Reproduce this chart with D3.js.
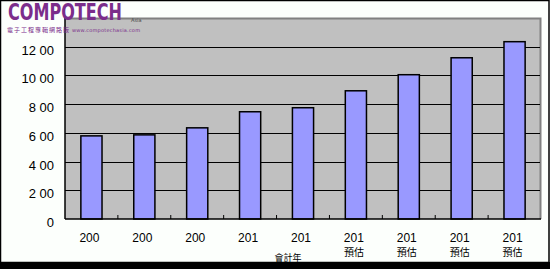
<!DOCTYPE html>
<html>
<head>
<meta charset="utf-8">
<script src="https://cdn.jsdelivr.net/npm/d3@7"></script>
<style>
  body { margin: 0; background: #fff; }
  svg { display: block; }
</style>
</head>
<body>
<div class="root"></div>
<script>
const years = ['200', '200', '200', '201', '201', '201', '201', '201', '201']
const notes = ['', '', '', '', '', '預估', '預估', '預估', '預估']
const values = [5.79, 5.86, 6.35, 7.47, 7.75, 8.93, 10.05, 11.23, 12.35]
const tickValues = [0, 2, 4, 6, 8, 10, 12]
const tickLabels = ['0', '2 00', '4 00', '6 00', '8 00', '10 00', '12 00']

const svgWidth = 550
    , svgHeight = 269
    , plot = { left: 65, right: 541, top: 18, bottom: 219 }

const svg = d3.select('.root')
              .append('svg')
              .attr('width', svgWidth)
              .attr('height', svgHeight)

// frame
svg.append('rect')
   .attr('x', 0).attr('y', 0)
   .attr('width', svgWidth).attr('height', svgHeight)
   .attr('fill', '#fcfffc')
svg.append('rect')
   .attr('x', 0.5).attr('y', 0.5)
   .attr('width', svgWidth - 1.5).attr('height', 262)
   .attr('fill', 'none')
   .attr('stroke', '#000')
   .attr('stroke-width', 1.5)
svg.append('rect')
   .attr('x', 0).attr('y', 262)
   .attr('width', svgWidth).attr('height', 7)
   .attr('fill', '#000')

const scaleX = d3.scaleBand()
                 .domain(d3.range(values.length))
                 .range([plot.left, plot.right])
                 .paddingInner(0.6)
                 .paddingOuter(0.3)

const scaleY = d3.scaleLinear()
                 .domain([0, 14])
                 .range([plot.bottom, plot.top])

// plot background
svg.append('rect')
   .attr('x', plot.left).attr('y', plot.top)
   .attr('width', plot.right - plot.left)
   .attr('height', plot.bottom - plot.top)
   .attr('fill', '#c0c0c0')
svg.append('path')
   .attr('d', `M${plot.left},${plot.top + 0.5}H${plot.right - 0.5}V${plot.bottom}`)
   .attr('fill', 'none')
   .attr('stroke', '#808080')
   .attr('stroke-width', 2)

// gridlines
svg.append('g')
   .selectAll('line')
   .data(tickValues.filter(d => d > 0))
   .enter()
   .append('line')
   .attr('x1', plot.left).attr('x2', plot.right - 1)
   .attr('y1', d => Math.round(scaleY(d)) + 0.5)
   .attr('y2', d => Math.round(scaleY(d)) + 0.5)
   .attr('stroke', '#000')
   .attr('stroke-width', 1.2)

// bars
svg.append('g')
   .selectAll('rect')
   .data(values)
   .enter()
   .append('rect')
   .attr('x', (d, i) => scaleX(i))
   .attr('y', d => scaleY(d))
   .attr('width', scaleX.bandwidth())
   .attr('height', d => scaleY(0) - scaleY(d))
   .attr('fill', '#9999ff')
   .attr('stroke', '#000')
   .attr('stroke-width', 1.5)

// axes lines
svg.append('line')
   .attr('x1', plot.left).attr('x2', plot.left)
   .attr('y1', plot.top).attr('y2', plot.bottom)
   .attr('stroke', '#000').attr('stroke-width', 1.5)
svg.append('line')
   .attr('x1', plot.left).attr('x2', plot.right)
   .attr('y1', plot.bottom).attr('y2', plot.bottom)
   .attr('stroke', '#000').attr('stroke-width', 1.5)

// small ticks between categories
const step = scaleX.step()
svg.append('g')
   .selectAll('line')
   .data(d3.range(1, values.length))
   .enter()
   .append('line')
   .attr('x1', i => plot.left + i * step)
   .attr('x2', i => plot.left + i * step)
   .attr('y1', plot.bottom)
   .attr('y2', plot.bottom - 4)
   .attr('stroke', '#000')

// y tick labels
svg.append('g')
   .selectAll('text')
   .data(tickValues)
   .enter()
   .append('text')
   .attr('x', 54)
   .attr('y', d => scaleY(d) + 8)
   .attr('text-anchor', 'end')
   .attr('font-family', 'Liberation Sans, sans-serif')
   .attr('font-size', 13)
   .attr('fill', '#000')
   .text((d, i) => tickLabels[i])

// x labels
const xLabels = svg.append('g')
                   .selectAll('g')
                   .data(values)
                   .enter()
                   .append('g')
                   .attr('transform', (d, i) => `translate(${scaleX(i) + scaleX.bandwidth() / 2 - 2}, 0)`)
xLabels.append('text')
       .attr('y', 242)
       .attr('text-anchor', 'middle')
       .attr('font-family', 'Liberation Sans, sans-serif')
       .attr('font-size', 12)
       .text((d, i) => years[i])
xLabels.append('text')
       .attr('y', 256)
       .attr('text-anchor', 'middle')
       .attr('font-family', 'Noto Sans CJK TC, sans-serif')
       .attr('font-size', 10)
       .text((d, i) => notes[i])

svg.append('text')
   .attr('x', 288)
   .attr('y', 261)
   .attr('text-anchor', 'middle')
   .attr('font-family', 'Noto Sans CJK TC, sans-serif')
   .attr('font-size', 9)
   .text('會計年')

// logo, squeezed to width with a transform so the box stays honest
const logo = svg.append('text')
                .attr('font-family', 'DejaVu Sans Condensed, sans-serif')
                .attr('font-weight', 'bold')
                .attr('font-size', 23)
                .attr('fill', '#7b2d8b')
                .text('COMPOTECH')
const logoW = logo.node().getComputedTextLength()
logo.attr('transform', `translate(8, 20) scale(${114 / logoW}, 1)`)

svg.append('text')
   .attr('x', 131)
   .attr('y', 22)
   .attr('font-family', 'DejaVu Sans, sans-serif')
   .attr('font-size', 5)
   .attr('fill', '#444')
   .text('Asia')
svg.append('text')
   .attr('x', 7)
   .attr('y', 32)
   .attr('font-family', 'Noto Sans CJK TC, sans-serif')
   .attr('font-size', 6)
   .attr('textLength', 62)
   .attr('fill', '#7b2d8b')
   .text('電子工程專輯網路版')
svg.append('text')
   .attr('x', 72)
   .attr('y', 32)
   .attr('font-family', 'DejaVu Sans, sans-serif')
   .attr('font-size', 5)
   .attr('textLength', 68)
   .attr('fill', '#7b2d8b')
   .text('www.compotechasia.com')
</script>
</body>
</html>
